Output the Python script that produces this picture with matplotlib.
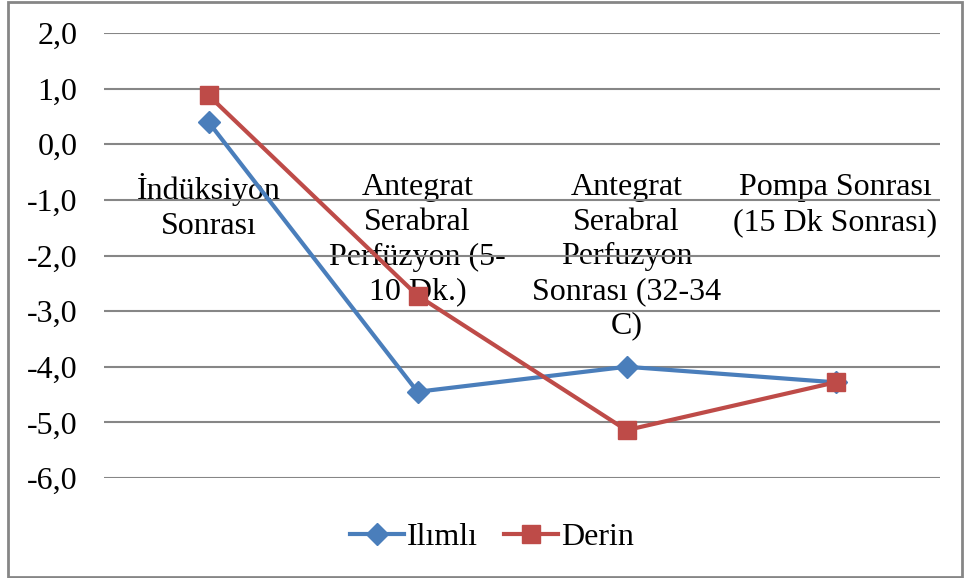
import matplotlib
matplotlib.use("Agg")
import matplotlib.pyplot as plt
from matplotlib.patches import Rectangle

categories = ["İndüksiyon\nSonrası",
              "Antegrat\nSerabral\nPerfüzyon (5-\n10 Dk.)",
              "Antegrat\nSerabral\nPerfuzyon\nSonrası (32-34\nC)",
              "Pompa Sonrası\n(15 Dk Sonrası)"]
ilimli = [0.4, -4.45, -4.0, -4.28]
derin = [0.88, -2.72, -5.14, -4.28]
yticks = [2, 1, 0, -1, -2, -3, -4, -5, -6]
ytick_labels = ["2,0", "1,0", "0,0", "-1,0", "-2,0", "-3,0", "-4,0", "-5,0", "-6,0"]

plt.rcParams['font.family'] = ['Liberation Serif', 'DejaVu Serif']
FS = 23

fig = plt.figure(figsize=(9.65, 5.78), dpi=100)
ax = fig.add_axes([104/965, 1-478/578, (940-104)/965, (478-33)/578])

x = list(range(len(categories)))
ax.plot(x, ilimli, color='#4A7EBB', lw=3, marker='D', ms=11.5, label='Ilımlı', zorder=3)
ax.plot(x, derin, color='#BE4B48', lw=3, marker='s', ms=13, label='Derin', zorder=3)

ax.set_xlim(-0.5, 3.5)
ax.set_ylim(-6, 2)
ax.set_yticks(yticks)
ax.set_yticklabels(ytick_labels, fontsize=FS)
ax.yaxis.grid(True, color='#868686', lw=1.5)
ax.set_axisbelow(True)
for s in ['left', 'right', 'top']:
    ax.spines[s].set_visible(False)
ax.spines['bottom'].set_position(('data', 0))
ax.spines['bottom'].set_visible(False)
ax.set_xticks(x)
ax.set_xticklabels(categories, fontsize=FS, linespacing=1.25, va='top')
ax.tick_params(axis='x', length=0, pad=21)
ax.tick_params(axis='y', length=0, pad=19)

leg = fig.legend(loc='center', bbox_to_anchor=(492/965, 1-537/578), ncol=2, frameon=False,
                 fontsize=FS, handlelength=1.7, handletextpad=0.1, columnspacing=0.8)

fig.add_artist(Rectangle((8/965, 1/578), 954/965, 575/578, transform=fig.transFigure,
                         fill=False, edgecolor='#868686', lw=2))

fig.savefig("out.png", dpi=100)
